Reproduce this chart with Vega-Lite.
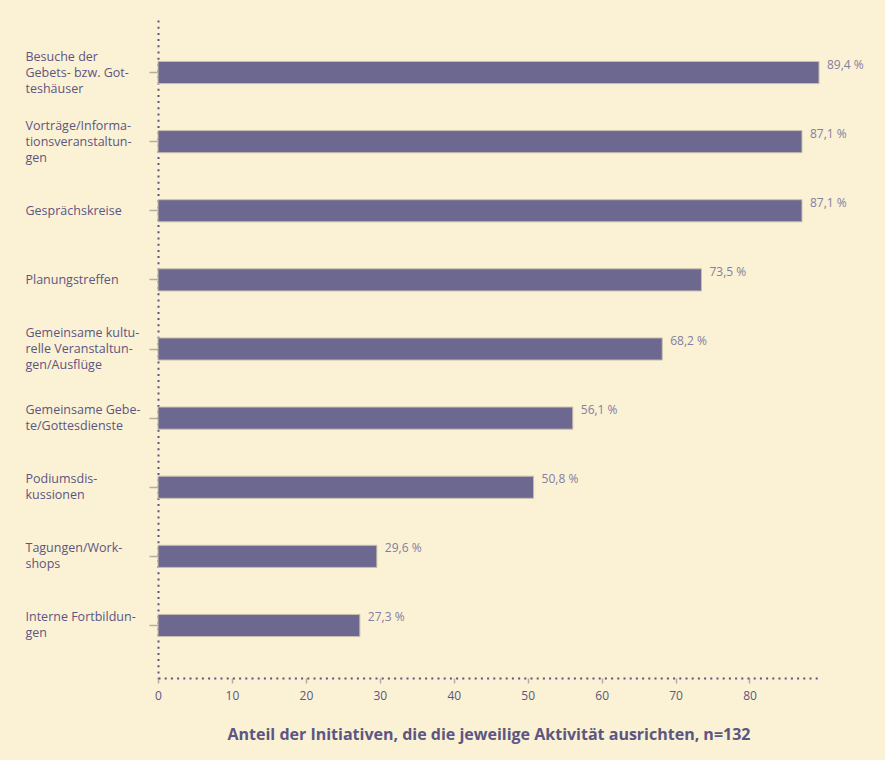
{
  "$schema": "https://vega.github.io/schema/vega-lite/v6.json",
  "width": 661,
  "height": 658,
  "autosize": {"type": "none"},
  "padding": {"left": 158, "top": 20, "right": 66, "bottom": 82},
  "background": "#fbf1d4",
  "data": {
    "values": [
      {"activity": "Besuche der|Gebets- bzw. Got-|teshäuser", "value": 89.4, "label": "89,4 %"},
      {"activity": "Vorträge/Informa-|tionsveranstaltun-|gen", "value": 87.1, "label": "87,1 %"},
      {"activity": "Gesprächskreise", "value": 87.1, "label": "87,1 %"},
      {"activity": "Planungstreffen", "value": 73.5, "label": "73,5 %"},
      {"activity": "Gemeinsame kultu-|relle Veranstaltun-|gen/Ausflüge", "value": 68.2, "label": "68,2 %"},
      {"activity": "Gemeinsame Gebe-|te/Gottesdienste", "value": 56.1, "label": "56,1 %"},
      {"activity": "Podiumsdis-|kussionen", "value": 50.8, "label": "50,8 %"},
      {"activity": "Tagungen/Work-|shops", "value": 29.6, "label": "29,6 %"},
      {"activity": "Interne Fortbildun-|gen", "value": 27.3, "label": "27,3 %"}
    ]
  },
  "encoding": {
    "y": {
      "field": "activity",
      "type": "nominal",
      "sort": null,
      "scale": {"paddingInner": 0.68, "paddingOuter": 0.6},
      "axis": {
        "title": null,
        "labelExpr": "split(datum.label, '|')",
        "labelAlign": "left",
        "labelBaseline": "middle",
        "labelPadding": 124,
        "labelLineHeight": 16,
        "labelOffset": {
          "condition": [
            {"test": "length(split(datum.value, '|')) == 3", "value": -16},
            {"test": "length(split(datum.value, '|')) == 2", "value": -8}
          ],
          "value": 0
        },
        "labelFont": "Open Sans",
        "labelFontSize": 12.5,
        "labelColor": "#5b5682",
        "labelLimit": 200,
        "tickSize": 9,
        "tickColor": "#b5ae9e",
        "tickWidth": 1.5,
        "domainColor": "#5b5682",
        "domainWidth": 2,
        "domainDash": [2, 4.2]
      }
    },
    "x": {
      "field": "value",
      "type": "quantitative",
      "scale": {"domain": [0, 89.4], "nice": false},
      "axis": {
        "values": [0, 10, 20, 30, 40, 50, 60, 70, 80],
        "title": "Anteil der Initiativen, die die jeweilige Aktivität ausrichten, n=132",
        "titleFont": "Open Sans",
        "titleFontSize": 16,
        "titleFontWeight": "bold",
        "titleColor": "#5b5682",
        "titlePadding": 25,
        "labelFont": "Open Sans",
        "labelFontSize": 12,
        "labelColor": "#5b5682",
        "labelPadding": 7,
        "labelFlush": false,
        "grid": false,
        "tickSize": 5,
        "tickColor": "#b5ae9e",
        "tickWidth": 1.5,
        "domainColor": "#5b5682",
        "domainWidth": 2,
        "domainDash": [2, 4.2]
      }
    }
  },
  "layer": [
    {
      "mark": {"type": "bar", "color": "#6d6890", "stroke": "#c8bfae", "strokeWidth": 1}
    },
    {
      "mark": {"type": "text", "align": "left", "baseline": "middle", "dx": 8, "dy": -8, "font": "Open Sans", "fontSize": 12, "color": "#837ea2"},
      "encoding": {"text": {"field": "label"}}
    }
  ],
  "config": {"view": {"stroke": null}}
}
